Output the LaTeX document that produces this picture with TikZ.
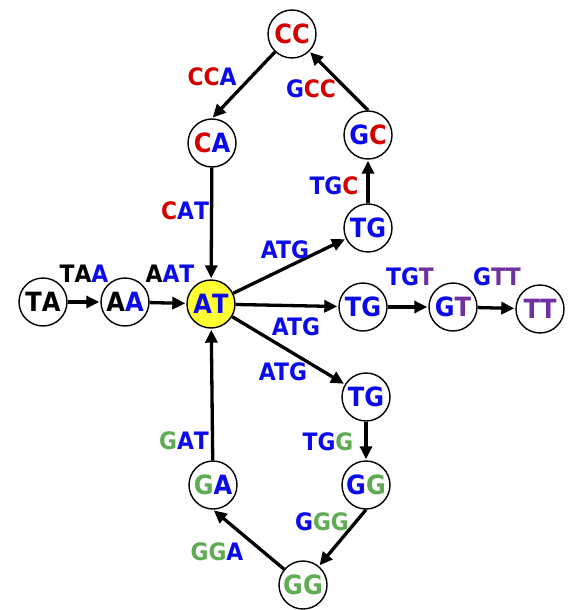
\documentclass[tikz,border=0pt]{standalone}
\usepackage{fontspec}
\setmainfont{DejaVu Sans}[FakeStretch=0.91]
\usetikzlibrary{arrows.meta}
\definecolor{cred}{RGB}{212,0,0}
\definecolor{cblue}{RGB}{10,10,235}
\definecolor{cgreen}{RGB}{96,172,84}
\definecolor{cpurp}{RGB}{112,48,160}
\definecolor{cyel}{RGB}{255,255,51}
\newcommand\cR[1]{\textcolor{cred}{#1}}
\newcommand\cB[1]{\textcolor{cblue}{#1}}
\newcommand\cG[1]{\textcolor{cgreen}{#1}}
\newcommand\cP[1]{\textcolor{cpurp}{#1}}
\newcommand\cK[1]{\textcolor{black}{#1}}
\tikzset{
  kmer/.style={circle, draw=black, line width=1.4pt, fill=white, minimum size=48pt, inner sep=0pt,
    font=\fontsize{26.5}{26}\selectfont\bfseries},
  elabel/.style={inner sep=0pt, font=\fontsize{24}{24}\selectfont\bfseries},
  edge/.style={line width=3.3pt, -{Triangle[length=13pt,width=12pt]}, shorten >=1pt}
}
\begin{document}
\begin{tikzpicture}[x=1pt,y=-1pt]
\useasboundingbox (0,0) rectangle (570,610);
% nodes
\node[kmer] (TA) at (43,302) {\cK{T}\cK{A}};
\node[kmer] (AA) at (125,302) {\cK{A}\cB{A}};
\node[kmer, fill=cyel] (AT) at (211,304) {\cB{A}\cB{T}};
\node[kmer] (CC) at (292,34) {\cR{C}\cR{C}};
\node[kmer] (CA) at (212,143) {\cR{C}\cB{A}};
\node[kmer] (GC) at (368,135) {\cB{G}\cR{C}};
\node[kmer] (TGa) at (368,228) {\cB{T}\cB{G}};
\node[kmer] (TGb) at (363,307) {\cB{T}\cB{G}};
\node[kmer] (GT) at (453,307) {\cB{G}\cP{T}};
\node[kmer] (TT) at (540,309) {\cP{T}\cP{T}};
\node[kmer] (TGc) at (366,397) {\cB{T}\cB{G}};
\node[kmer] (GGr) at (366,485) {\cB{G}\cG{G}};
\node[kmer] (GGb) at (303,585) {\cG{G}\cG{G}};
\node[kmer] (GA) at (213,485) {\cG{G}\cB{A}};
% edges
\draw[edge] (TA) -- (AA);
\draw[edge] (AA) -- (AT);
\draw[edge] (CA) -- (AT);
\draw[edge] (AT) -- (TGa);
\draw[edge] (AT) -- (TGb);
\draw[edge] (AT) -- (TGc);
\draw[edge] (TGb) -- (GT);
\draw[edge] (GT) -- (TT);
\draw[edge] (TGa) -- (GC);
\draw[edge] (GC.north) -- (CC);
\draw[edge] (CC) -- (CA.north);
\draw[edge] (TGc) -- (GGr);
\draw[edge] (GGr.south) -- (GGb);
\draw[edge] (GGb) -- (GA.south);
\draw[edge] (GA) -- (AT);
% labels
\node[elabel] (lTAA) at (84,274) {\cK{T}\cK{A}\cB{A}};
\node[elabel] (lAAT) at (170,274) {\cK{A}\cB{A}\cB{T}};
\node[elabel] (lCCA) at (212,77) {\cR{C}\cR{C}\cB{A}};
\node[elabel] (lGCC) at (311,89) {\cB{G}\cR{C}\cR{C}};
\node[elabel] (lCAT) at (185,211) {\cR{C}\cB{A}\cB{T}};
\node[elabel] (lTGC) at (334,186) {\cB{T}\cB{G}\cR{C}};
\node[elabel] (lATGa) at (285,250) {\cB{ATG}};
\node[elabel] (lTGT) at (410,277) {\cB{T}\cB{G}\cP{T}};
\node[elabel] (lGTT) at (497,277) {\cB{G}\cP{T}\cP{T}};
\node[elabel] (lATGb) at (296,327) {\cB{ATG}};
\node[elabel] (lATGc) at (283,372) {\cB{ATG}};
\node[elabel] (lTGG) at (328,442) {\cB{T}\cB{G}\cG{G}};
\node[elabel] (lGAT) at (184,441) {\cG{G}\cB{A}\cB{T}};
\node[elabel] (lGGG) at (322,522) {\cB{G}\cG{G}\cG{G}};
\node[elabel] (lGGA) at (217,552) {\cG{G}\cG{G}\cB{A}};
\end{tikzpicture}
\end{document}
